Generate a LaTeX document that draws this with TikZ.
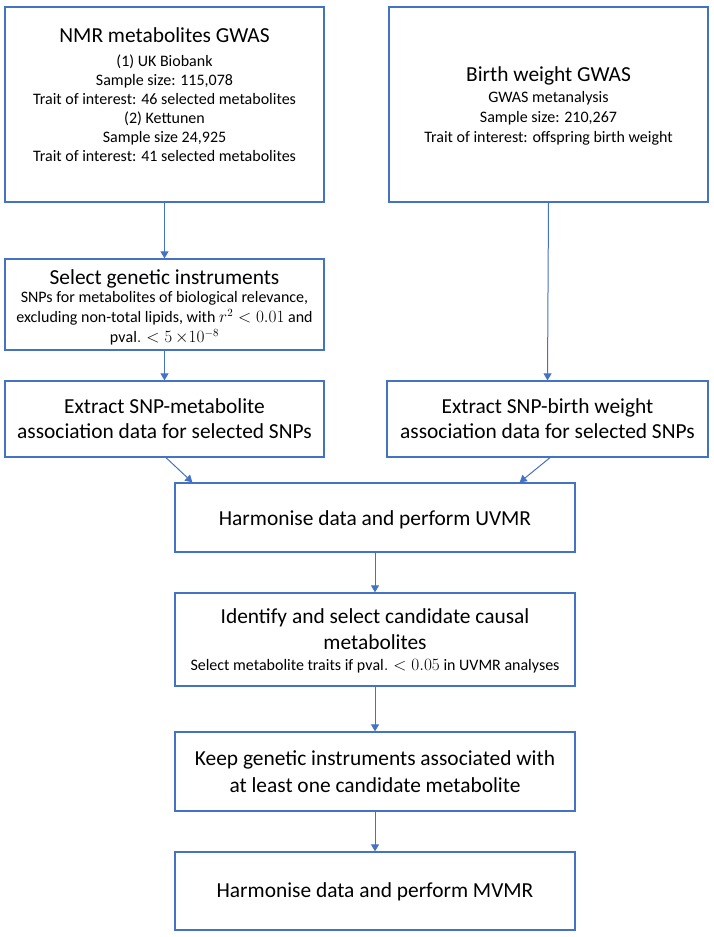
\documentclass[tikz,border=0pt]{standalone}
\usepackage{fontspec}
\setmainfont{Carlito}
\usetikzlibrary{arrows.meta,calc}
\definecolor{bblue}{RGB}{68,114,196}
\tikzset{
  box/.style={draw=bblue,line width=1.3pt,rectangle,inner sep=0pt,fill=white},
  txt/.style={align=center,inner sep=0pt,text=black},
  small/.style={font=\fontsize{16}{19}\selectfont},
  big/.style={font=\fontsize{21.4}{25}\selectfont},
  arr/.style={draw=bblue,line width=1pt,-{Triangle[length=7pt,width=8pt]}}
}
\newcommand{\ttl}[1]{{\fontsize{21.4}{22}\selectfont #1}}
\begin{document}
\begin{tikzpicture}[x=1pt,y=-1pt]
\useasboundingbox (0,0) rectangle (714,937);
% boxes
\node[box,minimum width=319pt,minimum height=195pt] (nmr) at (164.5,104.5) {};
\node[box,minimum width=319pt,minimum height=195pt] (bw) at (548.5,104.5) {};
\node[box,minimum width=319pt,minimum height=91pt] (sel) at (164.5,304.5) {};
\node[box,minimum width=319pt,minimum height=76pt] (ex1) at (164.5,419) {};
\node[box,minimum width=321pt,minimum height=76pt] (ex2) at (547.5,419) {};
\node[box,minimum width=400pt,minimum height=69pt] (uvmr) at (375,517.5) {};
\node[box,minimum width=400pt,minimum height=93pt] (ident) at (375,639.5) {};
\node[box,minimum width=400pt,minimum height=79pt] (keep) at (375,771.5) {};
\node[box,minimum width=400pt,minimum height=78pt] (mvmr) at (375,891) {};
% texts
\node[txt,small] (tnmr) at (164.5,94.5) {\ttl{NMR metabolites GWAS}\\[5pt]
  (1) UK Biobank\\ Sample size: 115,078\\ Trait of interest: 46 selected metabolites\\
  (2) Kettunen\\ Sample size 24,925\\ Trait of interest: 41 selected metabolites};
\node[txt,font=\fontsize{16}{20}\selectfont] (tbw) at (548.5,105.5) {\ttl{Birth weight GWAS}\\[1pt]
  GWAS metanalysis\\ Sample size: 210,267\\ Trait of interest: offspring birth weight};
\node[txt,font=\fontsize{16}{20}\selectfont] (tsel) at (164.5,307.5) {\ttl{Select genetic instruments}\\[-2pt]
  SNPs for metabolites of biological relevance,\\
  excluding non-total lipids, with $r^2<0.01$ and\\ $\mathrm{pval.}<5\,{\times}10^{-8}$};
\node[txt,big] (tex1) at (164.5,419) {Extract SNP-metabolite\\ association data for selected SNPs};
\node[txt,big] (tex2) at (547.5,419) {Extract SNP-birth weight\\ association data for selected SNPs};
\node[txt,big] (tuvmr) at (375,520) {Harmonise data and perform UVMR};
\node[txt,font=\fontsize{16}{18}\selectfont] (tident) at (375,641) {\ttl{Identify and select candidate causal}\\[6pt] \ttl{metabolites}\\[3pt]
  Select metabolite traits if $\mathrm{pval.}<0.05$ in UVMR analyses};
\node[txt,font=\fontsize{21.4}{27}\selectfont] (tkeep) at (375,771.5) {Keep genetic instruments associated with\\ at least one candidate metabolite};
\node[txt,big] (tmvmr) at (375,892) {Harmonise data and perform MVMR};
% arrows
\draw[arr] (nmr.south) -- (sel.north);
\draw[arr] (bw.south) -- (ex2.north);
\draw[arr] (sel.south) -- (ex1.north);
\draw[arr] ($(ex1.south)+(1.5,0)$) -- ($(uvmr.north west)+(18,0)$);
\draw[arr] ($(ex2.south)+(2.5,0)$) -- ($(uvmr.north east)+(-56,0)$);
\draw[arr] (uvmr.south) -- (ident.north);
\draw[arr] (ident.south) -- (keep.north);
\draw[arr] (keep.south) -- (mvmr.north);
\end{tikzpicture}
\end{document}
